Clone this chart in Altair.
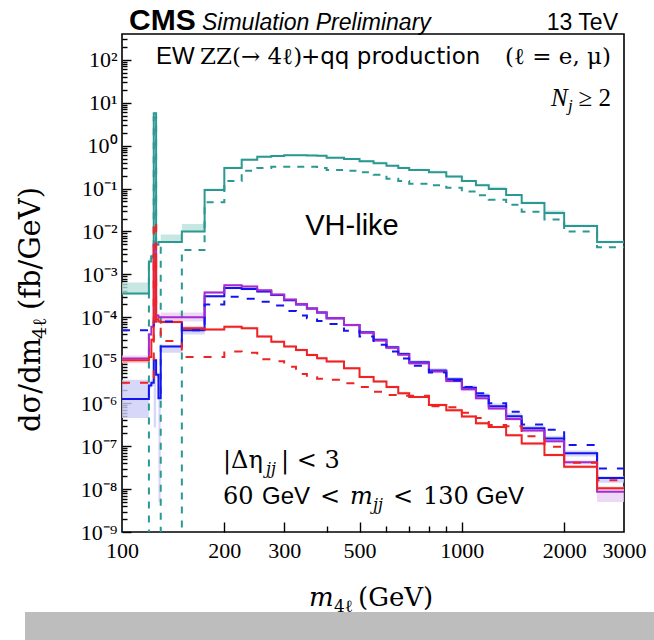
import altair as alt
import pandas as pd

# ---------------------------------------------------------------- data
# m4l bin edges (GeV)
edges = [100, 120, 122, 124, 126, 128, 130, 150, 175, 200, 225, 250, 275, 300,
         325, 350, 375, 400, 450, 500, 550, 600, 650, 700, 800, 900, 1000, 1100,
         1200, 1350, 1500, 1750, 2000, 2500, 3000]

EMPTY = 1e-15  # empty bin (drawn below the axis range)

# VH-like selection, full prediction (solid) and alternative (dashed)
vh_nom = [3.6e-4, 2.0e-3, 2.6e-3, 5.7, 4.9e-3, 5.7e-3, 5.7e-3, 1.0e-2, 0.093, 0.30,
          0.47, 0.55, 0.57, 0.60, 0.60, 0.59, 0.58, 0.52, 0.49, 0.43, 0.39, 0.34,
          0.30, 0.27, 0.24, 0.19, 0.15, 0.12, 0.098, 0.071, 0.046, 0.027, 0.0135, 5.7e-3]
vh_lo = [3.4e-4, 1.8e-3, 2.4e-3, 5.4, 4.6e-3, 5.4e-3, 5.4e-3, 9.6e-3, 0.089, 0.285,
         0.45, 0.53, 0.55, 0.58, 0.58, 0.57, 0.56, 0.50, 0.47, 0.41, 0.375, 0.325,
         0.285, 0.26, 0.23, 0.18, 0.143, 0.114, 0.093, 0.067, 0.043, 0.025, 0.0127, 5.3e-3]
vh_hi = [6.5e-4, 2.4e-3, 3.0e-3, 6.0, 5.3e-3, 6.1e-3, 8.5e-3, 1.5e-2, 0.100, 0.32,
         0.50, 0.58, 0.60, 0.63, 0.63, 0.62, 0.61, 0.55, 0.52, 0.46, 0.42, 0.36,
         0.32, 0.29, 0.26, 0.20, 0.16, 0.13, 0.11, 0.075, 0.050, 0.031, 0.0145, 6.1e-3]
vh_alt = [EMPTY, 2.2e-3, 2.6e-3, 4.5, 4.4e-3, 4.4e-3, EMPTY, 3.7e-3, 0.048, 0.15,
          0.26, 0.30, 0.32, 0.32, 0.32, 0.32, 0.30, 0.27, 0.26, 0.24, 0.21, 0.17,
          0.15, 0.13, 0.12, 0.105, 0.085, 0.07, 0.055, 0.042, 0.029, 0.019, 0.010, 4.3e-3]

# blue
b_nom = [1.26e-6, 2.6e-6, 3.0e-6, 1.0e-5, 4.6e-6, 1.3e-6, 2.1e-5, 5.0e-5, 3.1e-4, 4.8e-4,
         4.6e-4, 4.0e-4, 3.3e-4, 2.5e-4, 2.0e-4, 1.6e-4, 1.3e-4, 9.5e-5, 6.6e-5, 4.5e-5,
         3.0e-5, 2.0e-5, 1.4e-5, 9.0e-6, 5.8e-6, 3.6e-6, 2.3e-6, 1.5e-6, 8.5e-7, 5.0e-7,
         2.6e-7, 1.5e-7, 6.8e-8, 1.8e-8]
b_lo = [4.5e-7, 2.2e-6, 2.5e-6, 2.7e-7, 4.0e-6, 5e-9, 1.5e-5, 4.0e-5, 2.9e-4, 4.5e-4,
        4.3e-4, 3.75e-4, 3.1e-4, 2.35e-4, 1.85e-4, 1.5e-4, 1.2e-4, 8.8e-5, 6.1e-5, 4.1e-5,
        2.75e-5, 1.8e-5, 1.25e-5, 8.0e-6, 5.1e-6, 3.1e-6, 2.0e-6, 1.3e-6, 7.3e-7, 4.2e-7,
        2.2e-7, 1.25e-7, 5.7e-8, 1.4e-8]
b_hi = [3.5e-6, 3.0e-6, 3.5e-6, 1.2e-5, 5.2e-6, 1.6e-6, 2.3e-5, 6.0e-5, 3.3e-4, 5.1e-4,
        4.9e-4, 4.25e-4, 3.5e-4, 2.65e-4, 2.15e-4, 1.7e-4, 1.4e-4, 1.02e-4, 7.1e-5, 4.9e-5,
        3.25e-5, 2.2e-5, 1.55e-5, 1.0e-5, 6.5e-6, 4.1e-6, 2.6e-6, 1.7e-6, 9.8e-7, 5.8e-7,
        3.0e-7, 1.75e-7, 7.9e-8, 2.0e-8]
b_alt = [5.0e-5, 5.5e-5, 6.0e-5, 8.0e-5, 8.0e-5, 7.5e-5, 8.0e-5, 5.0e-5, 2.0e-4, 3.0e-4,
         2.7e-4, 2.3e-4, 1.9e-4, 1.4e-4, 1.1e-4, 9.5e-5, 8.2e-5, 7.0e-5, 4.9e-5, 3.6e-5,
         2.3e-5, 1.6e-5, 1.1e-5, 7.5e-6, 5.2e-6, 3.4e-6, 2.4e-6, 1.7e-6, 1.0e-6, 6.3e-7,
         3.2e-7, 2.4e-7, 1.07e-7, 3.0e-8]

# purple
p_nom = [1.1e-5, 4.0e-5, 6.0e-5, 5.0e-3, 1.1e-4, 1.0e-4, 1.0e-4, 1.0e-4, 3.8e-4, 5.6e-4,
         5.2e-4, 4.3e-4, 3.4e-4, 2.6e-4, 2.05e-4, 1.6e-4, 1.3e-4, 9.5e-5, 6.6e-5, 4.4e-5,
         2.9e-5, 1.95e-5, 1.35e-5, 8.5e-6, 5.5e-6, 3.3e-6, 2.1e-6, 1.3e-6, 7.5e-7, 4.3e-7,
         2.3e-7, 1.3e-7, 4.2e-8, 8.7e-9]
p_lo = [9.0e-6, 3.6e-5, 5.5e-5, 4.6e-3, 1.0e-4, 9.2e-5, 8.0e-5, 8.0e-5, 3.5e-4, 5.2e-4,
        4.8e-4, 4.0e-4, 3.1e-4, 2.4e-4, 1.9e-4, 1.47e-4, 1.2e-4, 8.7e-5, 6.1e-5, 4.0e-5,
        2.65e-5, 1.8e-5, 1.24e-5, 7.8e-6, 5.0e-6, 3.0e-6, 1.9e-6, 1.2e-6, 6.9e-7, 3.9e-7,
        2.1e-7, 1.2e-7, 3.8e-8, 5.0e-9]
p_hi = [1.3e-5, 4.4e-5, 6.5e-5, 5.4e-3, 1.2e-4, 1.1e-4, 1.3e-4, 1.3e-4, 4.1e-4, 6.0e-4,
        5.6e-4, 4.6e-4, 3.7e-4, 2.8e-4, 2.2e-4, 1.73e-4, 1.4e-4, 1.03e-4, 7.1e-5, 4.8e-5,
        3.15e-5, 2.1e-5, 1.46e-5, 9.2e-6, 6.0e-6, 3.6e-6, 2.3e-6, 1.4e-6, 8.1e-7, 4.7e-7,
        2.5e-7, 1.4e-7, 4.6e-8, 1.0e-8]

# red
r_nom = [1.0e-5, 1.2e-5, 3.0e-5, 3.0e-3, 9.0e-5, 8.0e-5, 7.8e-5, 5.6e-5, 5.2e-5, 6.0e-5,
         5.6e-5, 3.6e-5, 2.7e-5, 2.1e-5, 1.74e-5, 1.33e-5, 1.12e-5, 9.4e-6, 6.5e-6, 4.1e-6,
         3.2e-6, 2.4e-6, 1.7e-6, 1.4e-6, 9.1e-7, 6.9e-7, 4.9e-7, 3.4e-7, 2.8e-7, 1.8e-7,
         1.15e-7, 6.2e-8, 3.3e-8, 1.05e-8]
r_lo = [8.5e-6, 1.1e-5, 2.7e-5, 2.8e-3, 8.3e-5, 7.4e-5, 7.2e-5, 5.2e-5, 4.8e-5, 5.5e-5,
        5.2e-5, 3.3e-5, 2.5e-5, 1.95e-5, 1.6e-5, 1.23e-5, 1.03e-5, 8.7e-6, 6.0e-6, 3.8e-6,
        2.95e-6, 2.2e-6, 1.55e-6, 1.3e-6, 8.4e-7, 6.3e-7, 4.5e-7, 3.1e-7, 2.6e-7, 1.65e-7,
        1.05e-7, 5.7e-8, 3.0e-8, 9.5e-9]
r_hi = [1.15e-5, 1.3e-5, 3.3e-5, 3.2e-3, 9.7e-5, 8.6e-5, 9.0e-5, 6.3e-5, 5.6e-5, 6.5e-5,
        6.0e-5, 3.9e-5, 2.9e-5, 2.25e-5, 1.88e-5, 1.43e-5, 1.21e-5, 1.01e-5, 7.0e-6, 4.4e-6,
        3.45e-6, 2.6e-6, 1.85e-6, 1.5e-6, 9.8e-7, 7.5e-7, 5.3e-7, 3.7e-7, 3.0e-7, 1.95e-7,
        1.25e-7, 6.7e-8, 3.6e-8, 1.15e-8]
r_alt = [3.0e-6, 3.0e-6, 3.0e-6, 1.7e-2, 6.0e-5, 6.0e-5, 2.8e-5, 1.2e-5, 1.2e-5, 1.6e-5,
         1.5e-5, 1.05e-5, 9.5e-6, 7.1e-6, 4.8e-6, 4.0e-6, 3.7e-6, 3.5e-6, 2.9e-6, 2.4e-6,
         1.85e-6, 1.55e-6, 1.5e-6, 1.5e-6, 8.5e-7, 8.0e-7, 6.0e-7, 4.5e-7, 3.1e-7, 2.9e-7,
         1.7e-7, 9.7e-8, 4.1e-8, 1.6e-8]

# axis ticks
x_labels = [100, 200, 300, 500, 1000, 2000, 3000]
x_minor = [400, 600, 700, 800, 900]
y_values = [1e-9, 1e-8, 1e-7, 1e-6, 1e-5, 1e-4, 1e-3, 1e-2, 1e-1, 1e0, 1e1, 1e2]
y_labels = ["10⁻⁹", "10⁻⁸", "10⁻⁷", "10⁻⁶", "10⁻⁵", "10⁻⁴", "10⁻³", "10⁻²",
            "10⁻¹", "10⁰", "10¹", "10²"]

# ---------------------------------------------------------------- styling
TEAL, BLUE, PURPLE, RED = "#2b9892", "#1414f0", "#a72ad2", "#f02222"
TEAL_B, BLUE_B, PURPLE_B, RED_B = "#b9e1dc", "#cdcdf7", "#e8cef2", "#f9ccd3"
SERIF, SANS = "Liberation Serif", "Liberation Sans"
MATH = "DejaVu Serif"
W, H = 502, 498
LEFT, TOP = 122, 34

xscale = alt.Scale(type="log", domain=[100, 3000], nice=False)
yscale = alt.Scale(type="log", domain=[1e-9, 10 ** 2.6], nice=False)


def step_frame(vals):
    return pd.DataFrame({"m": edges, "v": list(vals) + [vals[-1]]})


def band_frame(lo, hi):
    return pd.DataFrame({"m": edges, "lo": list(lo) + [lo[-1]], "hi": list(hi) + [hi[-1]]})


def band(lo, hi, color, xaxis=None, yaxis=None):
    return alt.Chart(band_frame(lo, hi)).mark_area(
        interpolate="step-after", color=color, opacity=0.8, clip=True
    ).encode(
        x=alt.X("m:Q", scale=xscale, axis=xaxis),
        y=alt.Y("lo:Q", scale=yscale, axis=yaxis),
        y2="hi:Q",
    )


def line(vals, color, dash=None, xaxis=None, yaxis=None):
    kw = dict(interpolate="step-after", color=color, strokeWidth=2, clip=True)
    if dash:
        kw["strokeDash"] = dash
    return alt.Chart(step_frame(vals)).mark_line(**kw).encode(
        x=alt.X("m:Q", scale=xscale, axis=xaxis),
        y=alt.Y("v:Q", scale=yscale, axis=yaxis),
    )


def text(t, x, y, size=22, font=SERIF, style="normal", weight="normal",
         align="left", baseline="alphabetic", angle=0):
    # x, y given in page pixels; converted to plot-area coordinates
    return alt.Chart(pd.DataFrame({"t": [t]})).mark_text(
        font=font, fontSize=size, fontStyle=style, fontWeight=weight,
        align=align, baseline=baseline, angle=angle, color="black"
    ).encode(x=alt.value(x - LEFT), y=alt.value(y - TOP), text="t:N")


# labelled axes (left / bottom)
y_expr = " : ".join(
    f"datum.value < {v * 1.5!r} ? '{lab}'" for v, lab in zip(y_values[:-1], y_labels[:-1])
) + f" : '{y_labels[-1]}'"
y_label_axis = alt.Axis(orient="left", values=y_values, labelExpr=y_expr, ticks=False,
                        domain=False, grid=False, labelFont=SERIF, labelFontSize=22,
                        labelColor="black", labelPadding=5, labelOverlap=False,
                        labelFlush=False, title=None)
x_label_axis = alt.Axis(orient="bottom", values=x_labels, format="d", ticks=False,
                        domain=False, grid=False, labelFont=SERIF, labelFontSize=22,
                        labelColor="black", labelPadding=8, labelOverlap=False,
                        labelFlush=False, title=None)

# inward-pointing tick marks (drawn by axes placed on the opposite side)
y_ticks = [m * 10.0 ** k for k in range(-9, 3) for m in range(1, 10) if m * 10.0 ** k < 10 ** 2.6]
y_tick_axis = alt.Axis(
    orient="right", offset=-W, values=y_ticks, labels=False, domain=False, grid=False,
    tickColor="black", tickWidth=1.4, title=None,
    tickSize={"condition": {"test": "abs(log(datum.value)/LN10 - round(log(datum.value)/LN10)) < 0.001",
                            "value": 9}, "value": 5},
)
x_tick_axis = alt.Axis(
    orient="top", offset=-H, values=x_labels[1:-1] + x_minor, labels=False, domain=False,
    grid=False, tickColor="black", tickWidth=1.4, title=None,
    tickSize={"condition": {"test": "indexof([200, 300, 500, 1000, 2000], datum.value) >= 0",
                            "value": 10}, "value": 6},
)

layers = [
    band(vh_lo, vh_hi, TEAL_B, xaxis=x_label_axis, yaxis=y_label_axis),
    band(b_lo, b_hi, BLUE_B),
    band(p_lo, p_hi, PURPLE_B),
    band(r_lo, r_hi, RED_B),
    line(vh_alt, TEAL, dash=[7, 7], xaxis=x_tick_axis, yaxis=y_tick_axis),
    line(vh_nom, TEAL),
    line(b_nom, BLUE),
    line(p_nom, PURPLE),
    line(r_nom, RED),
    line(b_alt, BLUE, dash=[8, 10]),
    line(r_alt, RED, dash=[8, 10]),
]

# header
layers += [
    text("CMS", 129, 30, size=30, font=SANS, weight="bold"),
    text("Simulation Preliminary", 202, 30, size=23, font=SANS, style="italic"),
    text("13 TeV", 618, 30, size=23, font=SANS, align="right"),
]

# annotations inside the frame
layers += [
    text("EW", 156, 64, size=24, font=SANS),
    text("ZZ(→ 4ℓ)", 200, 64, size=23, font=MATH),
    text("+qq production", 301, 64, size=23, font="DejaVu Sans"),
    text("(ℓ  =  e, μ)", 611, 64, size=23, font=MATH, align="right"),
    text("N", 551, 106, size=25, style="italic"),
    text("j", 568, 111, size=17, style="italic"),
    text("≥ 2", 611, 106, size=25, align="right"),
    text("VH-like", 352, 235, size=29, font=SANS, align="center"),
    text("|Δη", 223, 468, size=24, font=MATH),
    text("jj", 266, 474, size=16, font=MATH, style="italic"),
    text("| < 3", 281, 468, size=24, font=MATH),
    text("60", 223, 504, size=24, font=MATH),
    text("GeV", 262, 504, size=24, font=SANS),
    text("<", 320, 504, size=24, font=MATH),
    text("m", 350, 504, size=24, font=MATH, style="italic"),
    text("jj", 373, 510, size=16, font=MATH, style="italic"),
    text("<", 393, 504, size=24, font=MATH),
    text("130", 423, 504, size=24, font=MATH),
    text("GeV", 476, 504, size=24, font=SANS),
]

# axis titles
layers += [
    text("m", 309, 606, size=26, font=MATH, style="italic"),
    text("4ℓ", 334, 612, size=17, font=MATH),
    text("(GeV)", 358, 606, size=26, font=MATH),
    text("dσ/dm", 31, 432, size=29, font=MATH, angle=270, baseline="middle"),
    text("4ℓ", 40, 339, size=19, font=MATH, angle=270, baseline="middle"),
    text("(fb/GeV)", 31, 310, size=29, font=MATH, angle=270, baseline="middle"),
]

# footer strip
layers.append(
    alt.Chart(pd.DataFrame({"a": [0]})).mark_rect(color="#bdbdbd").encode(
        x=alt.value(25 - LEFT), x2=alt.value(654 - LEFT),
        y=alt.value(612 - TOP), y2=alt.value(640 - TOP),
    )
)

chart = alt.layer(*layers).resolve_axis(x="independent", y="independent").properties(
    width=W, height=H,
    padding={"left": LEFT, "top": TOP, "right": 654 - LEFT - W, "bottom": 640 - TOP - H},
    autosize=alt.AutoSizeParams(type="none"),
).configure(background="white").configure_view(stroke="black", strokeWidth=1.6)

chart.save("out.html", embed_options={"renderer": "svg", "actions": False})
